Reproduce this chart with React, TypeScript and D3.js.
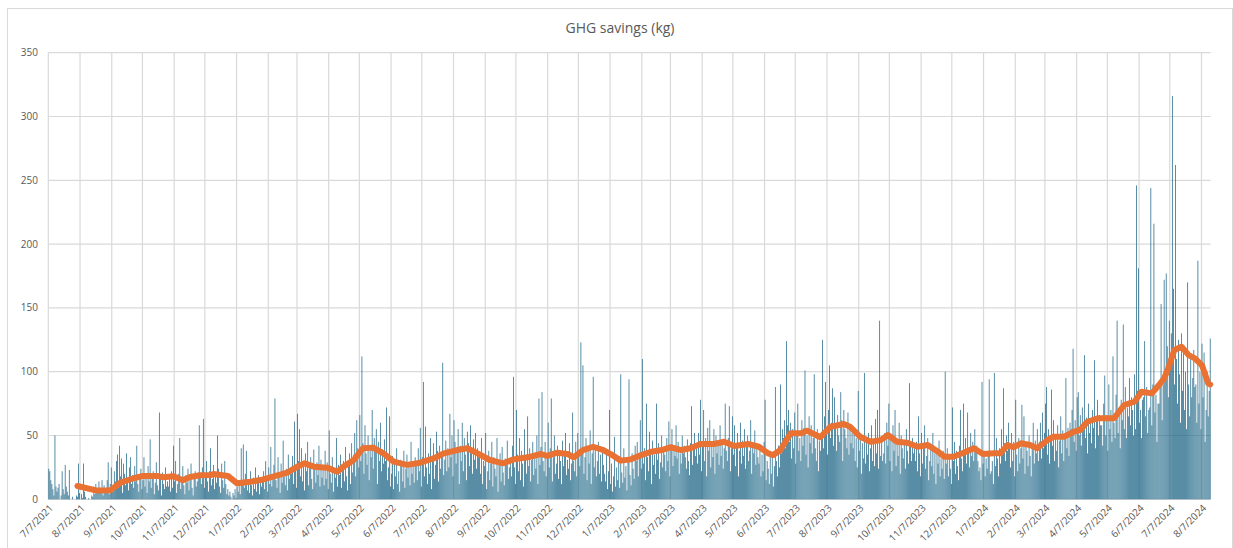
import React from 'react'
import * as d3 from 'd3'

// daily GHG savings (kg), one value per day starting 7/7/2021
const savings2021 = [
  24, 22, 15, 12, 8, 3, 50, 10, 6, 9, 12, 0, 3, 22, 8, 4, 27, 10, 6, 3, 23, 0, 0, 2, 0,
  0, 0, 3, 2, 28, 5, 0, 4, 1, 28, 6, 2, 0, 0, 1, 0, 0, 3, 2, 10, 4, 12, 8, 5, 14, 6, 9, 15, 3, 11, 7,
  8, 15, 29, 4, 12, 25, 10, 6, 22, 14, 30, 35, 9, 42, 18, 32, 5, 28, 20, 11, 36, 16, 7, 25, 33, 12, 19, 9, 26, 14,
  42, 12, 6, 18, 24, 8, 15, 33, 10, 20, 5, 26, 14, 47, 9, 17, 22, 4, 13, 29, 11, 7, 68, 16, 3, 21, 12, 8, 25, 10, 14,
  10, 18, 6, 22, 9, 42, 14, 30, 5, 12, 20, 48, 8, 16, 26, 11, 4, 19, 13, 24, 7, 15, 28, 9, 3, 17, 22, 10, 14, 21,
  58, 20, 12, 25, 63, 9, 18, 30, 14, 6, 22, 40, 11, 16, 27, 8, 19, 13, 50, 24, 10, 5, 28, 15, 9, 30, 12, 4, 8, 3, 6,
]
const savings2022 = [
  2, 0, 5, 3, 8, 1, 10, 6, 14, 4, 40, 12, 43, 9, 20, 38, 7, 15, 5, 22, 11, 3, 17, 8, 25, 6, 13, 19, 4, 16, 10,
  14, 22, 8, 30, 17, 6, 25, 12, 41, 10, 19, 27, 79, 15, 9, 33, 21, 5, 28, 13, 46, 18, 11, 24, 7, 35, 16, 20,
  20, 34, 12, 61, 25, 9, 67, 30, 55, 18, 40, 14, 28, 7, 36, 22, 45, 11, 26, 33, 16, 8, 39, 24, 13, 29, 19, 42, 10, 31, 17,
  25, 11, 38, 16, 29, 8, 54, 20, 13, 33, 6, 24, 17, 48, 10, 27, 19, 35, 9, 22, 30, 14, 41, 18, 7, 28, 36, 12, 44, 21,
  35, 52, 18, 62, 40, 25, 66, 30, 112, 44, 20, 58, 36, 27, 50, 15, 42, 33, 70, 24, 48, 38, 55, 12, 45, 30, 60, 22, 39, 28, 47,
  30, 72, 15, 25, 65, 10, 20, 34, 8, 28, 18, 40, 12, 22, 6, 31, 26, 14, 38, 9, 24, 35, 17, 27, 11, 45, 20, 29, 13, 33,
  28, 15, 40, 22, 56, 10, 33, 92, 18, 57, 25, 12, 36, 20, 48, 8, 30, 44, 16, 27, 53, 38, 14, 42, 24, 35, 107, 19, 31, 46, 22,
  40, 25, 67, 33, 50, 18, 62, 45, 28, 38, 55, 12, 42, 30, 60, 22, 48, 35, 15, 53, 44, 26, 58, 36, 20, 47, 31, 52, 24, 40, 33,
  35, 20, 48, 12, 30, 26, 52, 8, 22, 38, 15, 28, 45, 10, 33, 24, 18, 48, 6, 29, 36, 14, 41, 21, 11, 32, 27, 46, 16, 25,
  30, 18, 42, 96, 25, 12, 70, 35, 22, 48, 15, 38, 28, 10, 55, 33, 20, 65, 26, 40, 14, 31, 45, 19, 36, 24, 50, 12, 79, 27, 41,
  84, 30, 22, 45, 18, 36, 60, 25, 40, 79, 14, 33, 50, 20, 28, 42, 16, 38, 30, 12, 46, 26, 35, 52, 19, 31, 24, 44, 15, 28,
  68, 30, 22, 45, 18, 52, 35, 26, 123, 40, 105, 20, 33, 48, 15, 38, 28, 54, 12, 36, 96, 25, 42, 18, 30, 45, 20, 35, 14, 40, 27,
]
const savings2023 = [
  20, 14, 35, 8, 22, 70, 12, 28, 6, 18, 49, 10, 25, 15, 30, 9, 98, 21, 13, 40, 17, 26, 7, 33, 94, 19, 11, 36, 24, 16, 42,
  30, 45, 18, 36, 62, 24, 110, 28, 40, 15, 75, 33, 22, 53, 38, 12, 46, 27, 35, 20, 75, 31, 44, 16, 29, 50, 25, 38,
  35, 22, 48, 30, 61, 18, 40, 55, 26, 38, 34, 58, 32, 45, 20, 36, 28, 50, 36, 42, 33, 24, 47, 30, 19, 44, 73, 27, 39, 52, 34,
  40, 28, 52, 35, 78, 22, 45, 70, 30, 48, 18, 56, 38, 62, 25, 44, 33, 55, 20, 50, 36, 42, 27, 58, 34, 46, 24, 40, 75, 38,
  30, 48, 73, 22, 40, 65, 35, 58, 26, 44, 52, 18, 38, 60, 28, 46, 34, 55, 24, 42, 50, 30, 38, 62, 20, 45, 36, 54, 27, 40, 33,
  28, 40, 18, 35, 22, 45, 78, 15, 30, 24, 12, 38, 20, 33, 10, 26, 88, 30, 18, 42, 25, 90, 36, 55, 48, 62, 40, 124, 58, 70,
  45, 60, 32, 55, 40, 68, 28, 52, 75, 38, 48, 30, 62, 42, 56, 101, 35, 50, 25, 65, 44, 58, 36, 48, 98, 40, 30, 55, 22, 46, 38,
  50, 125, 40, 65, 92, 55, 35, 70, 105, 48, 60, 87, 42, 80, 58, 38, 66, 50, 45, 84, 62, 30, 70, 55, 48, 40, 68, 35, 58, 44, 52,
  40, 55, 30, 48, 25, 85, 38, 50, 20, 44, 32, 99, 28, 46, 35, 52, 22, 40, 58, 30, 45, 26, 63, 36, 70, 24, 140, 34, 48, 30,
  36, 52, 28, 60, 42, 75, 30, 48, 22, 58, 38, 70, 26, 44, 34, 60, 20, 50, 40, 32, 46, 24, 55, 38, 28, 91, 42, 30, 48, 36, 40,
  30, 45, 22, 65, 36, 18, 52, 28, 40, 58, 24, 34, 48, 15, 30, 42, 26, 52, 20, 36, 12, 40, 28, 46, 18, 32, 24, 38, 16, 100,
  28, 40, 18, 35, 24, 12, 72, 30, 45, 20, 38, 26, 15, 42, 70, 32, 22, 75, 36, 48, 28, 68, 40, 25, 52, 34, 45, 30, 55, 38, 42,
]
const savings2024 = [
  30, 22, 25, 15, 92, 28, 38, 18, 32, 24, 35, 94, 20, 22, 30, 12, 99, 26, 48, 32, 18, 40, 28, 55, 36, 87, 44, 30, 50, 38, 60,
  40, 25, 52, 30, 45, 18, 78, 35, 22, 48, 28, 40, 74, 32, 65, 20, 44, 38, 26, 50, 34, 18, 42, 60, 28, 46, 36, 55, 30,
  45, 60, 32, 68, 40, 52, 75, 88, 35, 55, 28, 48, 86, 42, 62, 30, 50, 38, 58, 25, 46, 65, 36, 54, 30, 48, 95, 40, 56, 34, 60,
  55, 70, 118, 45, 62, 38, 80, 84, 50, 66, 42, 72, 58, 113, 48, 64, 36, 75, 52, 60, 44, 70, 56, 109, 40, 62, 78, 50, 66, 58,
  58, 42, 75, 97, 50, 66, 38, 90, 55, 70, 45, 112, 60, 48, 82, 140, 52, 68, 40, 78, 62, 137, 55, 88, 48, 72, 65, 95, 58, 80, 70,
  50, 98, 55, 246, 85, 181, 60, 70, 48, 78, 80, 124, 65, 88, 52, 70, 72, 244, 58, 90, 216, 68, 82, 45, 75, 75, 92, 153, 62, 90,
  172, 95, 177, 120, 80, 140, 105, 130, 316, 165, 90, 262, 110, 75, 125, 98, 60, 130, 85, 115, 70, 100, 55, 170, 90, 65, 110, 80, 95, 117, 88,
  90, 60, 187, 75, 100, 55, 122, 80, 115, 45, 70, 100, 65, 85, 126,
]

// 30-day moving average
const maDates = [
  '2021-08-04', '2021-08-23', '2021-09-05', '2021-09-15', '2021-09-28', '2021-10-07', '2021-10-21', '2021-10-27',
  '2021-11-06', '2021-11-15', '2021-11-22', '2021-12-02', '2021-12-12', '2021-12-15', '2021-12-29', '2022-01-07',
  '2022-01-20', '2022-01-30', '2022-02-11', '2022-02-25', '2022-03-07', '2022-03-14', '2022-03-23', '2022-04-05',
  '2022-04-15', '2022-04-21', '2022-05-01', '2022-05-10', '2022-05-20', '2022-05-30', '2022-06-09', '2022-06-22',
  '2022-07-05', '2022-07-18', '2022-07-28', '2022-08-10', '2022-08-20', '2022-08-30', '2022-09-11', '2022-09-24',
  '2022-10-04', '2022-10-18', '2022-10-31', '2022-11-06', '2022-11-16', '2022-11-26', '2022-12-02', '2022-12-11',
  '2022-12-21', '2022-12-31', '2023-01-07', '2023-01-17', '2023-01-27', '2023-02-06', '2023-02-16', '2023-02-26',
  '2023-03-07', '2023-03-17', '2023-03-26', '2023-04-05', '2023-04-18', '2023-04-28', '2023-05-08', '2023-05-22',
  '2023-06-01', '2023-06-10', '2023-06-15', '2023-06-22', '2023-07-02', '2023-07-12', '2023-07-18', '2023-07-31',
  '2023-08-10', '2023-08-23', '2023-08-29', '2023-09-08', '2023-09-18', '2023-09-28', '2023-10-05', '2023-10-14',
  '2023-10-24', '2023-11-03', '2023-11-13', '2023-11-23', '2023-11-29', '2023-12-08', '2023-12-18', '2023-12-28',
  '2024-01-06', '2024-01-17', '2024-01-23', '2024-01-30', '2024-02-05', '2024-02-12', '2024-02-21', '2024-02-28',
  '2024-03-09', '2024-03-15', '2024-03-25', '2024-04-04', '2024-04-10', '2024-04-17', '2024-04-27', '2024-05-13',
  '2024-05-23', '2024-06-02', '2024-06-09', '2024-06-19', '2024-06-26', '2024-07-01', '2024-07-05', '2024-07-11',
  '2024-07-18', '2024-07-25', '2024-07-31', '2024-08-07', '2024-08-13', '2024-08-15',
]
const maValues = [
  10.4, 6.8, 7, 13, 16.5, 18.3, 18.3, 17.2,
  18, 15, 17.5, 18.8, 19, 19.8, 18.3, 12.5,
  13.8, 15.1, 17.7, 20.9, 25.6, 28.2, 25.6, 24.8,
  21.6, 25.6, 30.8, 40, 40.5, 36, 29.5, 27,
  28.7, 32, 36, 38.6, 40, 36, 30.8, 28.2,
  31.3, 32.9, 35.5, 34, 36.5, 35.5, 32.9, 38.6,
  41.2, 38.6, 35.5, 30.3, 31.3, 34.7, 37.3, 38.6,
  40.8, 38.6, 40, 43.3, 43.3, 45.1, 41.8, 43.3,
  41.2, 36, 34.7, 38.6, 51.7, 51.7, 53.8, 48.6,
  56.9, 59, 56.9, 49, 45.1, 46.4, 50.4, 45.1,
  44.3, 41.2, 42.5, 37.3, 33.4, 33.4, 36.5, 40,
  35.5, 36, 36, 42.5, 40.8, 43.9, 42.5, 40,
  46.5, 49, 49, 53, 54.3, 60.8, 63.5, 63.5,
  73.9, 76.5, 84.3, 83, 89.6, 94.8, 102.7, 117,
  119.6, 113, 110.5, 105, 91, 90,
]

const yTicks = [0, 50, 100, 150, 200, 250, 300, 350]

const START = new Date(Date.UTC(2021, 6, 7))
const W = 1233
const H = 548
const margin = { left: 48.3, right: 1210.7, top: 52.7, bottom: 499.3 }

const BAR_COLOR = '#156082'
const LINE_COLOR = '#E97132'
const GRID = '#d9d9d9'
const TEXT = '#595959'
const FONT = '"Open Sans", "Noto Sans", sans-serif'

export default function App() {
  const daily = [...savings2021, ...savings2022, ...savings2023, ...savings2024]
  const end = d3.utcDay.offset(START, daily.length)

  const x = d3.scaleTime().domain([START, end]).range([margin.left, margin.right])
  const y = d3.scaleLinear().domain([0, 350]).range([margin.bottom, margin.top])
  const dayW = x(d3.utcDay.offset(START, 1)) - x(START)
  const barW = dayW * 0.7

  const monthTicks = d3.range(38).map(i => d3.utcMonth.offset(START, i))
  const fmt = d3.utcFormat('%-m/%-d/%Y')

  const ma = maDates.map((d, i) => ({ date: new Date(d + 'T00:00:00Z'), value: maValues[i] }))
  const line = d3
    .line<{ date: Date; value: number }>()
    .x(d => x(d.date) + dayW / 2)
    .y(d => y(d.value))

  return (
    <svg
      width={W}
      height={H}
      style={{ position: 'absolute', left: 0, top: 0, background: '#fff' }}
      fontFamily={FONT}
    >
      <rect x={7.5} y={8.5} width={1225} height={600} fill="#fff" stroke={GRID} />
      <text x={620} y={33} textAnchor="middle" fontSize={14} fill={TEXT}>
        GHG savings (kg)
      </text>

      {yTicks.map(t => (
        <g key={t}>
          <line x1={margin.left} x2={margin.right} y1={y(t)} y2={y(t)} stroke={GRID} strokeWidth={1.2} />
          <text x={38} y={y(t)} dy="0.35em" textAnchor="end" fontSize={10} fill={TEXT}>
            {t}
          </text>
        </g>
      ))}

      {monthTicks.map(d => (
        <g key={d.getTime()}>
          <line x1={x(d)} x2={x(d)} y1={margin.top} y2={margin.bottom} stroke={GRID} strokeWidth={1.2} />
          <text
            transform={`translate(${x(d) + 3},${margin.bottom + 7}) rotate(-45)`}
            textAnchor="end"
            dy="0.35em"
            fontSize={10}
            fill={TEXT}
          >
            {fmt(d)}
          </text>
        </g>
      ))}

      <g fill={BAR_COLOR}>
        {daily.map((v, i) => {
          const x0 = x(d3.utcDay.offset(START, i)) + (dayW - barW) / 2
          return <rect key={i} x={x0} y={y(v)} width={barW} height={y(0) - y(v)} />
        })}
      </g>

      <path
        d={line(ma) || ''}
        fill="none"
        stroke={LINE_COLOR}
        strokeWidth={6}
        strokeLinejoin="round"
        strokeLinecap="round"
      />
    </svg>
  )
}
